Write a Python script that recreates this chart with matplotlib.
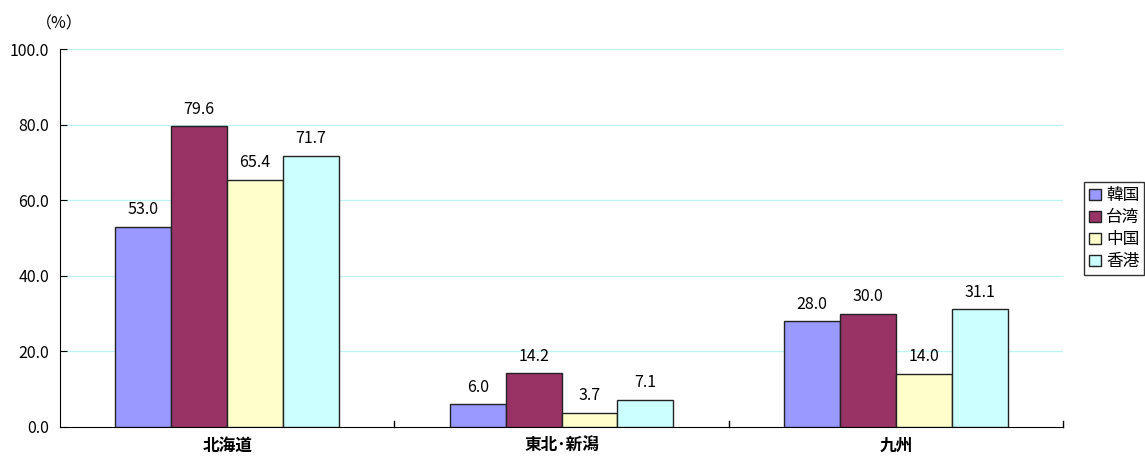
import matplotlib.pyplot as plt
import numpy as np
from matplotlib.patches import Patch

plt.rcParams['font.family'] = ['Noto Sans CJK JP', 'DejaVu Sans']

regions = ['北海道', '東北･新潟', '九州']
markets = ['韓国', '台湾', '中国', '香港']
kankoku = [53.0, 6.0, 28.0]
taiwan = [79.6, 14.2, 30.0]
chugoku = [65.4, 3.7, 14.0]
hongkong = [71.7, 7.1, 31.1]
yticks = [0, 20, 40, 60, 80, 100]

series = [kankoku, taiwan, chugoku, hongkong]
colors = ['#9999ff', '#993366', '#ffffcc', '#ccffff']

fig = plt.figure(figsize=(11.45, 4.67), dpi=100)
ax = fig.add_axes([0.0524, 0.0857, 0.876, 0.809])

x = np.arange(len(regions))
w = 0.167
for i, (vals, c) in enumerate(zip(series, colors)):
    pos = x + (i - 1.5) * w
    ax.bar(pos, vals, width=w, color=c, edgecolor='#222222', linewidth=1.0, zorder=3)
    for px, v in zip(pos, vals):
        ax.text(px, v + 2.3, f'{v:.1f}', ha='center', va='bottom', fontsize=11.5)

ax.set_xlim(-0.5, 2.5)
ax.set_ylim(0, 100)
ax.set_yticks(yticks)
ax.set_yticklabels([f'{t:.1f}' for t in yticks], fontsize=11.5)
for t in yticks[1:]:
    ax.axhline(t, color='#bff2f2', linewidth=0.9, zorder=1)

ax.set_xticks(x)
ax.set_xticklabels(regions, fontsize=12, fontweight='bold')
ax.tick_params(axis='x', length=0, pad=7)
ax.tick_params(axis='y', direction='in', length=5, pad=8)
# category separators drawn as small inward ticks on the baseline
for b in [0.5, 1.5, 2.5]:
    ax.plot([b, b], [0, 1.6], color='black', linewidth=1.0, clip_on=False, zorder=4)

ax.spines['top'].set_visible(False)
ax.spines['right'].set_visible(False)

fig.text(0.031, 0.94, '（%）', fontsize=11.5)

handles = [Patch(facecolor=c, edgecolor='#222222', label=m) for c, m in zip(colors, markets)]
fig.legend(handles=handles, loc='center left', bbox_to_anchor=(0.947, 0.51),
           frameon=True, fancybox=False, edgecolor='black', fontsize=12,
           handlelength=0.7, handleheight=0.7, handletextpad=0.3,
           borderpad=0.3, labelspacing=0.3, borderaxespad=0)

fig.savefig('out.png', dpi=100)
